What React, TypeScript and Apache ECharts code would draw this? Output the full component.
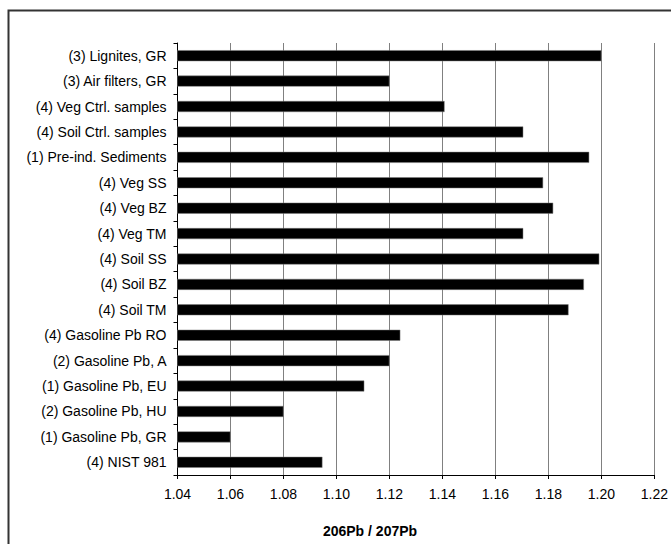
import React, { useEffect, useRef } from "react";
import * as echarts from "echarts";

const categories: string[] = [
  "(3) Lignites, GR",
  "(3) Air filters, GR",
  "(4) Veg Ctrl. samples",
  "(4) Soil Ctrl. samples",
  "(1) Pre-ind. Sediments",
  "(4) Veg SS",
  "(4) Veg BZ",
  "(4) Veg TM",
  "(4) Soil SS",
  "(4) Soil BZ",
  "(4) Soil TM",
  "(4) Gasoline Pb RO",
  "(2) Gasoline Pb, A",
  "(1) Gasoline Pb, EU",
  "(2) Gasoline Pb, HU",
  "(1) Gasoline Pb, GR",
  "(4) NIST 981",
];

const ratios: number[] = [
  1.2, 1.12, 1.1408, 1.1705, 1.1954, 1.178, 1.1818, 1.1705, 1.1992, 1.1934,
  1.1876, 1.1241, 1.12, 1.1105, 1.08, 1.06, 1.0947,
];

const axisTitle = "206Pb / 207Pb";
const xMin = 1.04;
const xMax = 1.22;
const xStep = 0.02;

const FONT = "'Liberation Sans', Arial, sans-serif";

export default function App() {
  const ref = useRef<HTMLDivElement>(null);
  useEffect(() => {
    if (!ref.current) return;
    const chart = echarts.init(ref.current, undefined, { renderer: "svg" });
    chart.setOption({
      animation: false,
      backgroundColor: "#ffffff",
      textStyle: { fontFamily: FONT },
      graphic: [
        {
          type: "rect",
          shape: { x: 8.5, y: 10.5, width: 700, height: 600 },
          style: { fill: "none", stroke: "#333333", lineWidth: 2 },
          silent: true,
        },
        {
          type: "text",
          x: 370,
          y: 531,
          style: {
            text: axisTitle,
            fontFamily: FONT,
            fontSize: 14,
            fontWeight: "bold",
            fill: "#000",
            textAlign: "center",
            textVerticalAlign: "middle",
          },
          silent: true,
        },
      ],
      grid: { left: 177.5, right: 13.5, top: 43, bottom: 69, containLabel: false },
      xAxis: {
        type: "value",
        min: xMin,
        max: xMax,
        interval: xStep,
        axisLine: { show: true, lineStyle: { color: "#000", width: 1 } },
        axisTick: { show: true, length: 4, lineStyle: { color: "#000" } },
        axisLabel: {
          fontFamily: FONT,
          fontSize: 14,
          color: "#000",
          margin: 12,
          formatter: (v: number) => v.toFixed(2),
        },
        splitLine: { show: true, lineStyle: { color: "#808080", width: 1 } },
      },
      yAxis: {
        type: "category",
        data: categories,
        inverse: true,
        axisLine: { show: true, lineStyle: { color: "#000", width: 1 } },
        axisTick: { show: true, length: 4, alignWithLabel: false, lineStyle: { color: "#000" } },
        axisLabel: { fontFamily: FONT, fontSize: 14, color: "#000", margin: 11 },
        splitLine: { show: false },
      },
      series: [
        {
          type: "bar",
          data: ratios,
          barWidth: 11,
          itemStyle: { color: "#000", borderColor: "#7f7f7f", borderWidth: 0.5 },
        },
      ],
    });
    return () => chart.dispose();
  }, []);
  return (
    <div
      ref={ref}
      style={{ position: "fixed", left: 0, top: 0, width: 671, height: 544 }}
    />
  );
}
